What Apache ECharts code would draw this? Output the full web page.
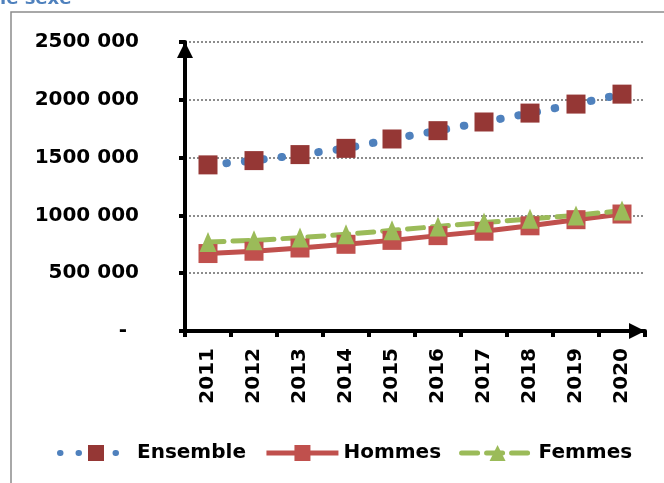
<!DOCTYPE html>
<html>
<head>
<meta charset="utf-8">
<script src="https://cdn.jsdelivr.net/npm/echarts@6/dist/echarts.min.js"></script>
<style>
  html, body { margin: 0; padding: 0; background: #fff; overflow: hidden; }
  #chart { width: 664px; height: 483px; }
</style>
</head>
<body>
<div id="chart"></div>
<script>
// data
const years = ['2011', '2012', '2013', '2014', '2015', '2016', '2017', '2018', '2019', '2020']
const ensemble = [1437000, 1474000, 1526000, 1580000, 1661000, 1733000, 1808000, 1885000, 1963000, 2049000]
const hommes = [670000, 690000, 718000, 750000, 784000, 825000, 863000, 910000, 963000, 1012000]
const femmes = [770000, 784000, 808000, 836000, 871000, 905000, 938000, 970000, 1000000, 1042000]
const yTickLabels = ['-', '500 000', '1000 000', '1500 000', '2000 000', '2500 000']

const font = 'DejaVu Sans'
const chart = echarts.init(document.getElementById('chart'))

const option = {
  animation: false,
  backgroundColor: '#fff',
  graphic: [
    {
      // outer frame, only left and top edges are in view
      type: 'polyline',
      shape: { points: [[11, 490], [11, 12], [670, 12]] },
      style: { fill: 'none', stroke: '#8c8c8c', lineWidth: 1.5 },
      silent: true,
    },
    {
      type: 'text',
      x: 0,
      y: -1,
      style: {
        text: 'le sexe',
        font: 'bold 18px ' + font,
        fill: '#4f81bd',
        verticalAlign: 'middle',
      },
      silent: true,
    },
  ],
  grid: { left: 185, right: 19, top: 42, bottom: 152, containLabel: false },
  legend: {
    left: 52,
    top: 438,
    itemWidth: 72,
    itemHeight: 20,
    itemGap: 18,
    textStyle: { fontFamily: font, fontWeight: 'bold', fontSize: 20, color: '#000' },
    data: [
      { name: 'Ensemble', lineStyle: { width: 6 } },
      { name: 'Hommes', lineStyle: { width: 5 } },
      { name: 'Femmes', lineStyle: { width: 5 } },
    ],
  },
  xAxis: {
    type: 'category',
    data: years,
    boundaryGap: true,
    axisLine: {
      lineStyle: { color: '#000', width: 4 },
      symbol: ['none', 'triangle'],
      symbolSize: [16, 16],
      symbolOffset: [0, -8],
    },
    axisTick: { show: true, length: 6, lineStyle: { color: '#000', width: 4 } },
    axisLabel: {
      rotate: 90,
      margin: 17,
      fontFamily: font,
      fontWeight: 'bold',
      fontSize: 20,
      color: '#000',
    },
    splitLine: { show: false },
  },
  yAxis: {
    type: 'value',
    min: 0,
    max: 2500000,
    interval: 500000,
    axisLine: {
      show: true,
      lineStyle: { color: '#000', width: 4 },
      symbol: ['none', 'triangle'],
      symbolSize: [16, 16],
      symbolOffset: [0, -8],
    },
    axisTick: { show: true, length: 6, lineStyle: { color: '#000', width: 4 } },
    axisLabel: {
      margin: 46,
      fontFamily: font,
      fontWeight: 'bold',
      fontSize: 20,
      color: '#000',
      formatter: (v) => {
        const s = yTickLabels[Math.round(v / 500000)]
        return v === 0 ? '{d|' + s + '}' : s
      },
      rich: {
        d: { fontFamily: font, fontWeight: 'bold', fontSize: 20, color: '#000', padding: [0, 12, 0, 0] },
      },
    },
    splitLine: { show: true, lineStyle: { color: '#8c8c8c', width: 2, type: [2, 2] } },
  },
  series: [
    {
      name: 'Ensemble',
      type: 'line',
      data: ensemble,
      symbol: 'rect',
      symbolSize: 19,
      itemStyle: { color: '#953735' },
      lineStyle: { color: '#4f81bd', width: 8, type: [0.5, 18], cap: 'round' },
    },
    {
      name: 'Hommes',
      type: 'line',
      data: hommes,
      symbol: 'rect',
      symbolSize: 19,
      itemStyle: { color: '#c0504d' },
      lineStyle: { color: '#c0504d', width: 5 },
    },
    {
      name: 'Femmes',
      type: 'line',
      data: femmes,
      symbol: 'triangle',
      symbolSize: [17, 20],
      itemStyle: { color: '#9bbb59' },
      lineStyle: { color: '#9bbb59', width: 5, type: [16, 9], cap: 'round' },
    },
  ],
}

chart.setOption(option)
</script>
</body>
</html>
